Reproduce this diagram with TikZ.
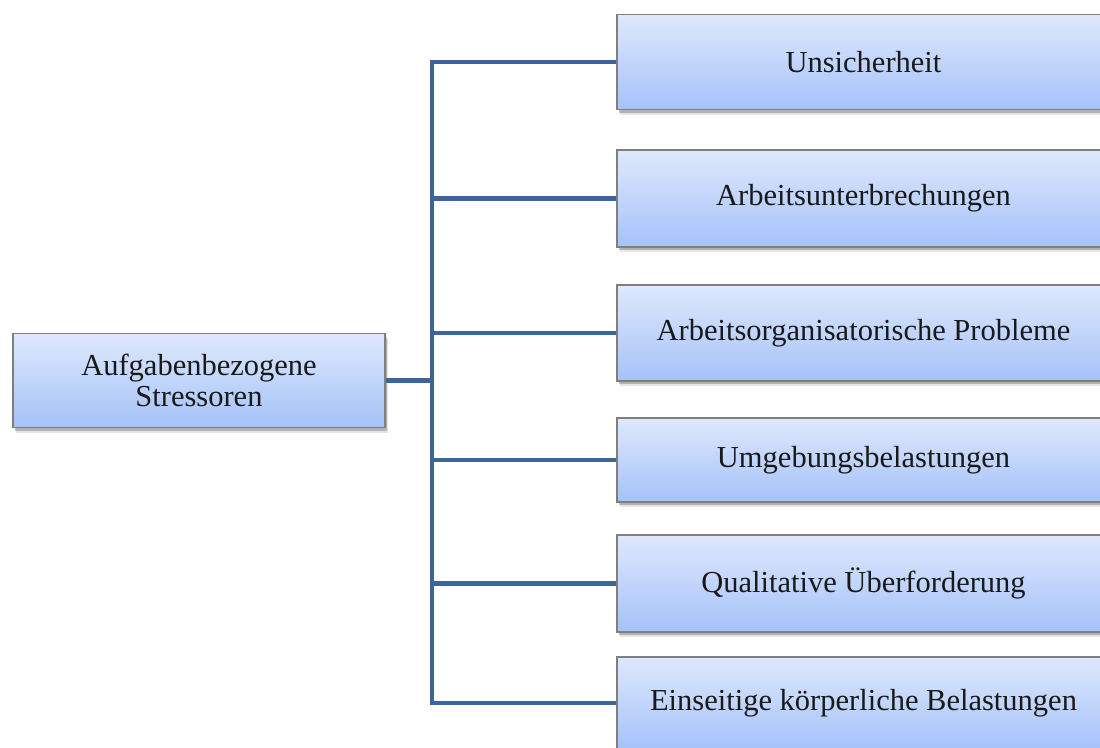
\documentclass[tikz,border=0pt]{standalone}
\usepackage{fontspec}
\setmainfont{Liberation Serif}
\usetikzlibrary{shadows,calc}
\definecolor{linkblue}{HTML}{3E6597}
\definecolor{boxtop}{HTML}{DEE8FD}
\definecolor{boxbottom}{HTML}{A5C2F9}
\definecolor{boxedge}{HTML}{7F7F7F}
\tikzset{
  stressbox/.style={draw=boxedge, line width=1.2pt, top color=boxtop, bottom color=boxbottom,
    align=center, inner sep=0pt, text=black!90,
    font=\fontsize{30.5}{31}\selectfont,
    drop shadow={shadow xshift=2.5pt, shadow yshift=-5pt, fill=black, opacity=0.10},
    drop shadow={shadow xshift=1.5pt, shadow yshift=-3pt, fill=black, opacity=0.22}},
  link/.style={draw=linkblue, line width=4.8pt}
}
\begin{document}
\begin{tikzpicture}[x=1pt, y=-1pt]
  \useasboundingbox (0,0) rectangle (1100,747);
  \fill[white] (0,0) rectangle (1100,747);
  \clip (0,0) rectangle (1100,747);

  % root node
  \node[stressbox, minimum width=372pt, minimum height=94pt] (root) at (199,380.5)
    {Aufgabenbezogene\\Stressoren};

  % stressor categories
  \node[stressbox, minimum width=493pt, minimum height=95pt] (b1) at (863.5,62) {Unsicherheit};
  \node[stressbox, minimum width=493pt, minimum height=97pt] (b2) at (863.5,198.5) {Arbeitsunterbrechungen};
  \node[stressbox, minimum width=493pt, minimum height=96pt] (b3) at (863.5,333) {Arbeitsorganisatorische Probleme};
  \node[stressbox, minimum width=493pt, minimum height=84pt] (b4) at (863.5,460) {Umgebungsbelastungen};
  \node[stressbox, minimum width=493pt, minimum height=97pt] (b5) at (863.5,583.5) {Qualitative Überforderung};
  \node[stressbox, minimum width=493pt, minimum height=92pt] (b6) at (863.5,703) {Einseitige körperliche Belastungen};

  % trunk
  \coordinate (trunk) at (432,0);
  \draw[link] (b1.west) -- (b1.west -| trunk) -- (b6.west -| trunk) -- (b6.west);
  \draw[link] (b2.west) -- (b2.west -| trunk);
  \draw[link] (b3.west) -- (b3.west -| trunk);
  \draw[link] (b4.west) -- (b4.west -| trunk);
  \draw[link] (b5.west) -- (b5.west -| trunk);
  \draw[link] (root.east) -- (root.east -| trunk);
\end{tikzpicture}
\end{document}
